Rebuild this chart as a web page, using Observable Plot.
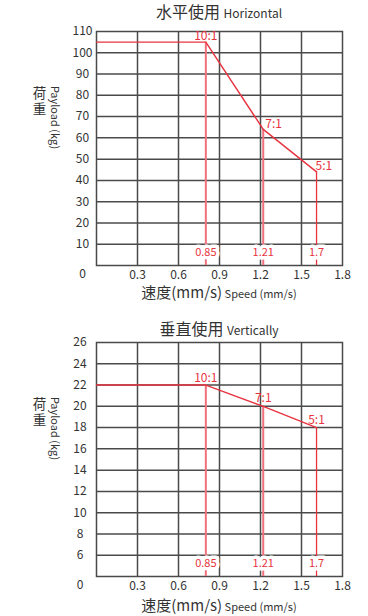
<!DOCTYPE html>
<html>
<head>
<meta charset="utf-8">
<script src="https://cdn.jsdelivr.net/npm/d3@7"></script>
<script src="https://cdn.jsdelivr.net/npm/@observablehq/plot@0.6"></script>
<style>
  html, body { margin: 0; padding: 0; background: #fff; }
  body { width: 368px; height: 616px; overflow: hidden; font-family: 'Noto Sans CJK SC', 'Noto Sans', sans-serif; color: #333; }
  .panel { position: relative; width: 368px; }
  .title { position: absolute; left: 96px; width: 246px; text-align: center; white-space: nowrap; color: #333; }
  .title .cjk { font-size: 16px; }
  .title .en { font-size: 12px; }
  svg { display: block; }
</style>
</head>
<body>
<div id="top" class="panel"></div>
<div id="bottom" class="panel"></div>
<script>
// ---- data ----
const titlesCN = ["水平使用", "垂直使用"];
const titlesEN = ["Horizontal", "Vertically"];
const yLabelCN = "荷重";
const yLabelEN = "Payload (kg)";
const xLabelCN = "速度(mm/s)";
const xLabelEN = " Speed (mm/s)";
const originLabel = "0";

const startSpeed = 0;
const speeds = [0.8, 1.22, 1.61];            // drawn positions of the ratio breakpoints
const speedLabels = ["0.85", "1.21", "1.7"];   // printed speed labels
const ratioLabels = ["10:1", "7:1", "5:1"];
const horizontalLoads = [105, 64, 44];
const verticalLoads = [22, 20, 18];

const xTicks = [0.3, 0.6, 0.9, 1.2, 1.5, 1.8];
const horizontalYTicks = [10, 20, 30, 40, 50, 60, 70, 80, 90, 100, 110];
const verticalYTicks = [6, 8, 10, 12, 14, 16, 18, 20, 22, 24, 26];
const horizontalDomain = [0, 110];
const verticalDomain = [4, 26];

// ---- styling ----
const FONT = "'Noto Sans CJK SC', 'Noto Sans', sans-serif";
const RED = "#e8333f";
const PINK = "#f0707c";
const GRID = "#4a4a4a";

function makeChart({loads, yTicks, yDomain, height, tickPad, labelOpts}) {
  const pts = [{x: startSpeed, y: loads[0]}, ...speeds.map((s, i) => ({x: s, y: loads[i]}))];
  const rows = speeds.map((s, i) => ({x: s, y: loads[i], speed: speedLabels[i], ratio: ratioLabels[i], i}));
  const xGrid = xTicks.filter(d => d < 1.8);
  const yGrid = yTicks.filter(d => d < yDomain[1]);
  const svg = Plot.plot({
    width: 368,
    height,
    marginLeft: 96,
    marginRight: 26,
    marginTop: 31,
    marginBottom: height - 31 - 234,
    style: {fontFamily: FONT, color: "#333", overflow: "visible", background: "white"},
    x: {domain: [0, 1.8]},
    y: {domain: yDomain},
    marks: [
      Plot.ruleX(xGrid, {stroke: GRID, strokeWidth: 1.5}),
      Plot.ruleY(yGrid, {stroke: GRID, strokeWidth: 1.5}),
      Plot.frame({stroke: GRID, strokeWidth: 1.5}),
      Plot.axisX(xTicks, {tickSize: 0, tickPadding: 5, fontSize: 12, fill: "#333", label: null, tickFormat: d => String(d)}),
      Plot.axisY(yTicks, {tickSize: 0, tickPadding: tickPad, textAnchor: "middle", fontSize: 12, fill: "#333", label: null}),
      Plot.text([originLabel], {frameAnchor: "bottom-left", dx: -tickPad, dy: 9, text: d => d, fontSize: 12, fill: "#333", textAnchor: "middle", lineAnchor: "middle"}),
      // vertical drop lines
      Plot.ruleX(rows.filter(d => d.i < 2), {x: "x", y1: yDomain[0], y2: "y", stroke: PINK, strokeWidth: 2}),
      Plot.ruleX(rows.filter(d => d.i === 2), {x: "x", y1: yDomain[0], y2: "y", stroke: RED, strokeWidth: 1.3}),
      // payload curve
      Plot.line(pts, {x: "x", y: "y", stroke: RED, strokeWidth: 1.4}),
      // ratio labels
      ...rows.map((d, k) => Plot.text([d], {x: "x", y: "y", text: "ratio", fill: RED, fontSize: 12, lineAnchor: "bottom", ...labelOpts[k]})),
      // speed labels
      Plot.text(rows, {x: "x", frameAnchor: "bottom", dy: -13, text: "speed", fill: RED, fontSize: 11, textAnchor: "middle", lineAnchor: "middle", stroke: "white", strokeWidth: 7}),
      // y-axis labels
      Plot.text([yLabelCN], {frameAnchor: "top-left", dx: -57, dy: 71, text: d => d, fontSize: 13.5, fill: "#333", textAnchor: "middle", lineAnchor: "middle"}),
      Plot.text([yLabelEN], {frameAnchor: "top-left", dx: -42, dy: 86, text: d => d, fontSize: 11, fill: "#333", rotate: 90, textAnchor: "middle", lineAnchor: "middle"})
    ]
  });
  // stack the Chinese y label vertically
  d3.select(svg).selectAll("text")
    .filter(function () { return this.textContent === yLabelCN; })
    .attr("y", 0)
    .style("writing-mode", "vertical-rl")
    .style("letter-spacing", "2.5px");
  return svg;
}

function addXLabel(svg, y) {
  const ns = "http://www.w3.org/2000/svg";
  const t = document.createElementNS(ns, "text");
  t.setAttribute("x", 219);
  t.setAttribute("y", y);
  t.setAttribute("text-anchor", "middle");
  t.setAttribute("fill", "#333");
  t.setAttribute("font-family", FONT);
  const a = document.createElementNS(ns, "tspan");
  a.setAttribute("font-size", 15);
  a.textContent = xLabelCN;
  const b = document.createElementNS(ns, "tspan");
  b.setAttribute("font-size", 11);
  b.textContent = xLabelEN;
  t.appendChild(a); t.appendChild(b);
  t.style.whiteSpace = "pre";
  svg.appendChild(t);
}

function addTitle(el, i, top) {
  const d = document.createElement("div");
  d.className = "title";
  d.style.top = top + "px";
  d.innerHTML = `<span class="cjk">${titlesCN[i]}</span> <span class="en">${titlesEN[i]}</span>`;
  el.appendChild(d);
}

const topEl = document.getElementById("top");
const c1 = makeChart({
  loads: horizontalLoads, yTicks: horizontalYTicks, yDomain: horizontalDomain, height: 311, tickPad: 14,
  labelOpts: [
    {textAnchor: "middle", dy: -2},
    {textAnchor: "start", dx: 2, dy: -1},
    {textAnchor: "start", dx: -1, dy: -2}
  ]
});
topEl.appendChild(c1);
addXLabel(c1, 311 - 13);
addTitle(topEl, 0, -1);

const botEl = document.getElementById("bottom");
const c2 = makeChart({
  loads: verticalLoads, yTicks: verticalYTicks, yDomain: verticalDomain, height: 305, tickPad: 16.5,
  labelOpts: [
    {textAnchor: "middle", dy: -3},
    {textAnchor: "middle", dy: -4},
    {textAnchor: "middle", dy: -4}
  ]
});
botEl.appendChild(c2);
addXLabel(c2, 305 - 5);
addTitle(botEl, 1, 5);
</script>
</body>
</html>
